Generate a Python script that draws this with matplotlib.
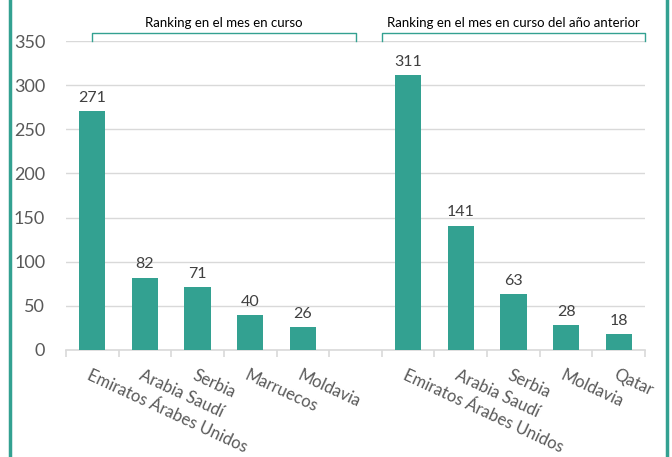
import matplotlib.pyplot as plt
from matplotlib.lines import Line2D

plt.rcParams['font.family'] = ['Lato', 'DejaVu Sans']

cur_countries = ['Emiratos Árabes Unidos', 'Arabia Saudí', 'Serbia', 'Marruecos', 'Moldavia']
cur_values = [271, 82, 71, 40, 26]
prev_countries = ['Emiratos Árabes Unidos', 'Arabia Saudí', 'Serbia', 'Moldavia', 'Qatar']
prev_values = [311, 141, 63, 28, 18]
group_titles = ['Ranking en el mes en curso', 'Ranking en el mes en curso del año anterior']

teal = '#33a191'
grey = '#595959'

labels = cur_countries + [''] + prev_countries
values = cur_values + [None] + prev_values

fig = plt.figure(figsize=(6.72, 4.57), dpi=100)
ax = fig.add_axes([66 / 672, 1 - 350 / 457, (645 - 66) / 672, (350 - 41) / 457])

xs = [i for i, v in enumerate(values) if v is not None]
vs = [v for v in values if v is not None]
ax.bar(xs, vs, width=0.5, color=teal, zorder=3)
for x, v in zip(xs, vs):
    ax.text(x, v + 7, str(v), ha='center', va='bottom', fontsize=11.5, color='#404040')

ax.set_xlim(-0.5, len(labels) - 0.5)
ax.set_ylim(0, 350)
ax.set_yticks(range(0, 351, 50))
ax.yaxis.grid(True, color='#d9d9d9', lw=1)
ax.set_axisbelow(True)
ax.tick_params(axis='y', length=0, labelsize=13, colors=grey, pad=15)
for s in ['top', 'right', 'left']:
    ax.spines[s].set_visible(False)
ax.spines['bottom'].set_color('#d9d9d9')
ax.spines['bottom'].set_linewidth(1.2)

# tick marks between categories
ax.set_xticks([i - 0.5 for i in range(len(labels) + 1)])
ax.set_xticklabels([])
ax.tick_params(axis='x', length=5, color='#d9d9d9', width=1.2)

for i, lab in enumerate(labels):
    if lab:
        ax.text(i - 0.02, -19, lab, rotation=-25, rotation_mode='anchor',
                ha='left', va='top', fontsize=12, color=grey)

# group brackets
for bx0, bx1, title in [(0, 5.0, group_titles[0]), (5.5, 10.5, group_titles[1])]:
    ytop = 359
    ax.plot([bx0, bx0, bx1, bx1], [350, ytop, ytop, 350], color=teal, lw=1,
            clip_on=False)
    ax.text((bx0 + bx1) / 2, ytop + 5, title, ha='center', va='bottom',
            fontsize=9.5, color='black')

# side borders of the frame
fig.add_artist(Line2D([10 / 672, 10 / 672], [0, 1], color=teal, lw=2.5))
fig.add_artist(Line2D([667 / 672, 667 / 672], [0, 1], color=teal, lw=2.5))

fig.savefig('out.png', dpi=100)
